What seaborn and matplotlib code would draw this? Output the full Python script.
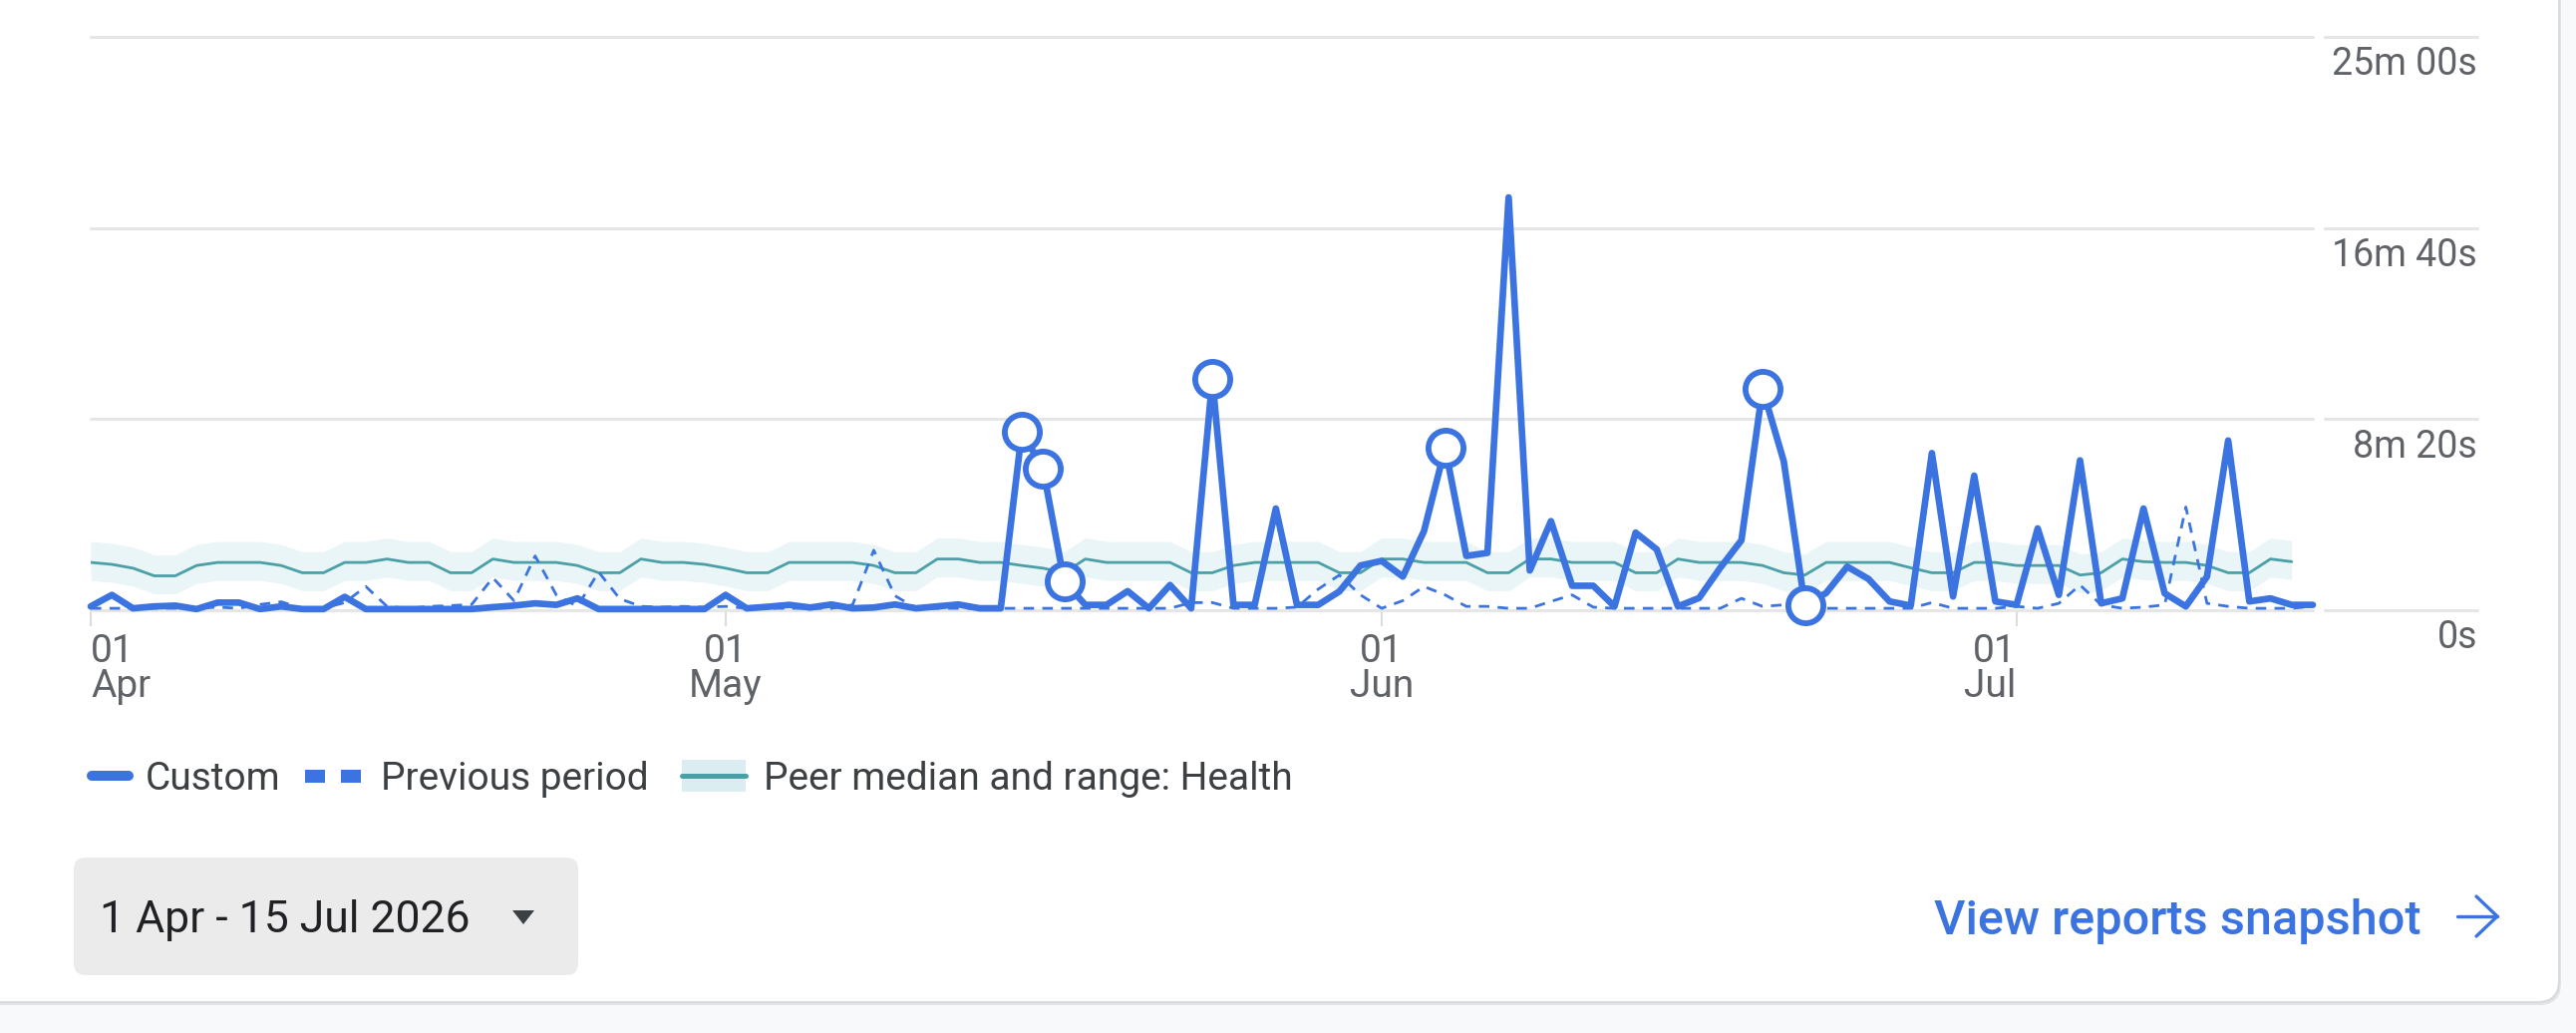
import matplotlib
matplotlib.use("Agg")
import numpy as np
import pandas as pd
import seaborn as sns
import matplotlib.pyplot as plt
from matplotlib.patches import FancyBboxPatch, Rectangle, Polygon

# daily values in seconds, 1 Apr .. 15 Jul 2026
custom = [10, 40, 5, 10, 12, 3, 20, 20, 3, 10,
          3, 3, 35, 3, 3, 3, 3, 3, 3, 8,
          12, 18, 14, 31, 3, 3, 3, 3, 3, 3,
          40, 5, 9, 14, 7, 15, 5, 7, 15, 5,
          10, 15, 5, 5, 467, 370, 75, 14, 14, 50,
          5, 66, 5, 605, 14, 14, 266, 14, 14, 49,
          117, 129, 88, 207, 425, 142, 150, 1080, 104, 233,
          64, 64, 10, 203, 159, 10, 32, 111, 183, 579,
          390, 12, 45, 114, 82, 23, 12, 411, 36, 352,
          23, 14, 214, 40, 392, 18, 31, 266, 44, 10,
          88, 444, 23, 31, 14, 14]

previous = [5, 5, 5, 5, 5, 5, 8, 5, 15, 22,
            5, 5, 20, 62, 10, 5, 10, 12, 15, 85,
            25, 142, 40, 10, 100, 30, 10, 8, 10, 8,
            10, 5, 5, 5, 5, 5, 14, 157, 38, 5,
            5, 5, 5, 5, 5, 5, 5, 5, 5, 5,
            5, 5, 20, 20, 5, 5, 5, 8, 55, 92,
            40, 5, 25, 62, 40, 10, 10, 5, 5, 23,
            40, 8, 5, 5, 5, 5, 5, 5, 31, 10,
            14, 10, 5, 5, 5, 5, 5, 20, 5, 5,
            5, 10, 5, 18, 66, 14, 5, 8, 14, 270,
            18, 10, 5, 5, 5, 10]

peer_median = [125, 120, 110, 90, 90, 117, 125,
               125, 125, 117, 98, 98, 125, 125,
               134, 125, 125, 98, 98, 134, 125,
               125, 125, 117, 98, 98, 134, 125,
               125, 120, 110, 98, 98, 125, 125,
               125, 125, 117, 98, 98, 134, 134,
               125, 125, 117, 110, 98, 134, 125,
               125, 125, 125, 98, 98, 117, 125,
               125, 125, 125, 98, 98, 134, 134,
               125, 125, 125, 98, 98, 134, 134,
               125, 125, 125, 98, 98, 134, 125,
               125, 125, 117, 98, 92, 125, 125,
               125, 125, 111, 98, 98, 125, 125,
               117, 117, 117, 92, 98, 134, 127,
               125, 125, 117, 98, 98, 134, 127]

peer_high = [180, 175, 165, 145, 145, 172, 180,
             180, 180, 172, 153, 153, 180, 180,
             189, 180, 180, 153, 153, 189, 180,
             180, 180, 172, 153, 153, 189, 180,
             180, 175, 165, 153, 153, 180, 180,
             180, 180, 172, 153, 153, 189, 189,
             180, 180, 172, 165, 153, 189, 180,
             180, 180, 180, 153, 153, 172, 180,
             180, 180, 180, 153, 153, 189, 189,
             180, 180, 180, 153, 153, 189, 189,
             180, 180, 180, 153, 153, 189, 180,
             180, 180, 172, 153, 147, 180, 180,
             180, 180, 166, 153, 153, 180, 180,
             172, 172, 172, 147, 153, 189, 182,
             180, 180, 172, 153, 153, 189, 182]

peer_low = [78, 73, 63, 43, 43, 70, 78,
            78, 78, 70, 51, 51, 78, 78,
            87, 78, 78, 51, 51, 87, 78,
            78, 78, 70, 51, 51, 87, 78,
            78, 73, 63, 51, 51, 78, 78,
            78, 78, 70, 51, 51, 87, 87,
            78, 78, 70, 63, 51, 87, 78,
            78, 78, 78, 51, 51, 70, 78,
            78, 78, 78, 51, 51, 87, 87,
            78, 78, 78, 51, 51, 87, 87,
            78, 78, 78, 51, 51, 87, 78,
            78, 78, 70, 51, 45, 78, 78,
            78, 78, 64, 51, 51, 78, 78,
            70, 70, 70, 45, 51, 87, 80,
            78, 78, 70, 51, 51, 87, 80]

anomaly_days = [44, 45, 46, 53, 64, 79, 81]

tick_days = [0, 30, 61, 91]
tick_labels = ["01\nApr", "01\nMay", "01\nJun", "01\nJul"]
y_ticks = [0, 500, 1000, 1500]
y_labels = ["0s", "8m 20s", "16m 40s", "25m 00s"]
legend_labels = ["Custom", "Previous period", "Peer median and range: Health"]
date_text = "1 Apr - 15 Jul 2026"
link_text = "View reports snapshot"

BLUE = "#3b73e0"
TEAL = "#4aa0a6"
BAND = "#eaf5f8"
GRID = "#e6e6e6"
GREY_TXT = "#5f6368"
DARK_TXT = "#202124"

sns.set_theme(style="white")
plt.rcParams["font.family"] = ["Roboto", "DejaVu Sans"]

W, H = 2584, 1036
fig = plt.figure(figsize=(W / 100, H / 100), dpi=100)
fig.patch.set_facecolor("#f8f9fa")

# background layer in pixel coordinates (y down)
bg = fig.add_axes([0, 0, 1, 1], zorder=0)
bg.set_xlim(0, W)
bg.set_ylim(H, 0)
bg.axis("off")

bg.add_patch(FancyBboxPatch((-20, -60), 2589, 1068, boxstyle="round,pad=0,rounding_size=22",
                            fc="#e2e3e5", ec="none"))
bg.add_patch(FancyBboxPatch((-20, -60), 2587, 1065, boxstyle="round,pad=0,rounding_size=22",
                            fc="white", ec="#d6d8db", lw=1.2))

# chart
ax = fig.add_axes([91 / W, 1 - 612 / H, (2320 - 91) / W, (612 - 37) / H], zorder=1)
ax.set_facecolor("none")

df = pd.DataFrame({"day": np.arange(len(custom)), "custom": custom, "previous": previous})
peer = pd.DataFrame({"day": np.arange(len(peer_median)), "median": peer_median,
                     "low": peer_low, "high": peer_high})

ax.fill_between(peer["day"], peer["low"], peer["high"], color=BAND, lw=0, zorder=1)
sns.lineplot(data=peer, x="day", y="median", ax=ax, color=TEAL, lw=2.0, zorder=2)
sns.lineplot(data=df, x="day", y="previous", ax=ax, color=BLUE, lw=2.0,
             linestyle=(0, (3.8, 3.0)), zorder=3, clip_on=False)
sns.lineplot(data=df, x="day", y="custom", ax=ax, color=BLUE, lw=4.8, zorder=4, clip_on=False)
anom = df[df["day"].isin(anomaly_days)]
sns.scatterplot(data=anom, x="day", y="custom", ax=ax, s=640, color="white",
                edgecolor=BLUE, linewidth=4.2, zorder=5, clip_on=False)

ax.set_xlim(0, 105)
ax.set_ylim(0, 1500)
ax.set_xlabel("")
ax.set_ylabel("")
for s in ax.spines.values():
    s.set_visible(False)

ax.set_yticks(y_ticks)
ax.set_yticklabels([])
ax.tick_params(axis="y", length=0, left=False, right=False)
ax.grid(axis="y", color=GRID, lw=2.2)
ax.set_axisbelow(True)
for gl in ax.get_ygridlines():
    gl.set_clip_on(False)
    gl.set_zorder(0.5)

ax.set_xticks(tick_days)
ax.set_xticklabels(tick_labels)
ax.tick_params(axis="x", bottom=True, length=11.5, width=1.5, color="#dadce0",
               pad=5, labelsize=28, labelcolor=GREY_TXT, direction="out")
for lbl, ha in zip(ax.get_xticklabels(), ["left", "center", "center", "right"]):
    lbl.set_ha(ha)
    lbl.set_multialignment(ha)
    lbl.set_linespacing(0.95)

# y labels sit under their gridlines on the right
ytr = ax.get_yaxis_transform()
for v, lbl in zip(y_ticks, y_labels):
    ax.plot([1.0054, 1.074], [v, v], transform=ytr, color=GRID, lw=2.2, clip_on=False)
    ax.annotate(lbl, xy=(1.074, v), xycoords=ytr, xytext=(0, -20), textcoords="offset points",
                ha="right", va="center", fontsize=27, color=GREY_TXT, annotation_clip=False)

# legend
LEG_Y = 792
bg.plot([92, 129], [778, 778], color=BLUE, lw=7.2, solid_capstyle="round")
bg.text(146, LEG_Y, legend_labels[0], fontsize=28, color="#3c4043", va="baseline")
bg.add_patch(Rectangle((306, 772), 20, 13, fc=BLUE, ec="none"))
bg.add_patch(Rectangle((342, 772), 20, 13, fc=BLUE, ec="none"))
bg.text(382, LEG_Y, legend_labels[1], fontsize=28, color="#3c4043", va="baseline")
bg.add_patch(Rectangle((684, 762), 64, 32, fc="#dcedf1", ec="none"))
bg.plot([684, 748], [778, 778], color=TEAL, lw=3.6)
bg.text(766, LEG_Y, legend_labels[2], fontsize=28, color="#3c4043", va="baseline")

# date range button
bg.add_patch(FancyBboxPatch((74, 860), 506, 118, boxstyle="round,pad=0,rounding_size=12",
                            fc="#ebebeb", ec="none"))
bg.text(100, 935, date_text, fontsize=32, color=DARK_TXT, va="baseline")
bg.add_patch(Polygon([(514, 913), (536, 913), (525, 927)], closed=True, fc="#3c4043", ec="none"))

# link
bg.text(1940, 937, link_text, fontsize=35, color=BLUE, va="baseline", fontweight="medium")
bg.plot([2465, 2505], [919, 919], color=BLUE, lw=2.4, solid_capstyle="round")
bg.plot([2484, 2505, 2484], [899, 919, 939], color=BLUE, lw=2.4,
        solid_capstyle="round", solid_joinstyle="miter")

fig.savefig("out.png", dpi=100, facecolor=fig.get_facecolor())
